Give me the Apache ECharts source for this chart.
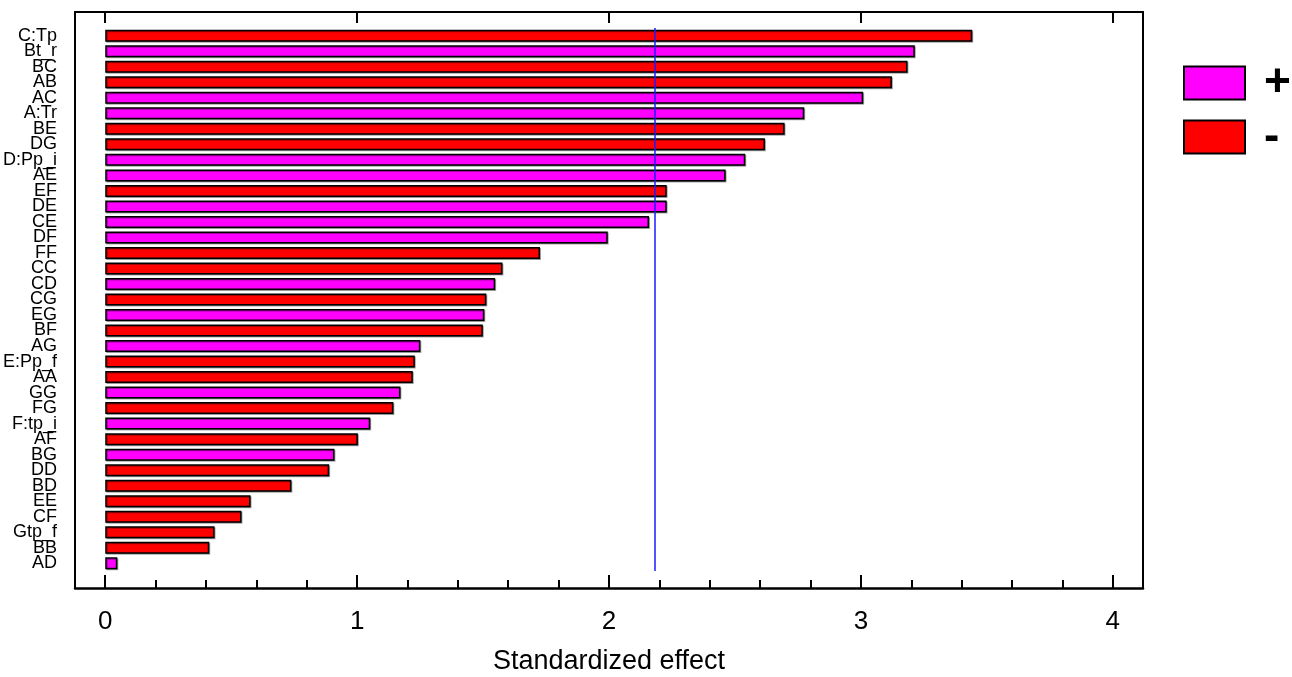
<!DOCTYPE html>
<html><head><meta charset="utf-8">
<script src="https://cdn.jsdelivr.net/npm/echarts@6/dist/echarts.min.js"></script>
<style>html,body{margin:0;padding:0;background:#fff}#c{width:1292px;height:677px}</style>
</head><body><div id="c"></div>
<script>
const categories = ['C:Tp','Bt_r','BC','AB','AC','A:Tr','BE','DG','D:Pp_i','AE','EF','DE','CE','DF','FF','CC','CD','CG','EG','BF','AG','E:Pp_f','AA','GG','FG','F:tp_i','AF','BG','DD','BD','EE','CF','Gtp_f','BB','AD'];
const effects = [3.442,3.214,3.185,3.123,3.009,2.775,2.697,2.619,2.541,2.463,2.229,2.229,2.159,1.995,1.726,1.577,1.548,1.513,1.505,1.499,1.251,1.229,1.221,1.172,1.144,1.052,1.003,0.910,0.889,0.739,0.577,0.541,0.434,0.413,0.048];
const signs = ['-','+','-','-','+','+','-','-','+','+','-','+','+','+','-','-','+','-','+','-','+','-','-','+','-','+','-','+','-','-','-','-','-','-','+'];
const criticalValue = 2.18;
const majorTicks = [0,1,2,3,4];
const minorTicks = [0,0.2,0.4,0.6,0.8,1,1.2,1.4,1.6,1.8,2,2.2,2.4,2.6,2.8,3,3.2,3.4,3.6,3.8,4];

const posData = effects.map((v,i)=>signs[i]==='+'?v:null);
const negData = effects.map((v,i)=>signs[i]==='-'?v:null);
const FONT = '"Liberation Sans", Arial, sans-serif';
const XMIN=-0.12, XMAX=4.12;

const chart = echarts.init(document.getElementById('c'), null, {renderer:'canvas'});
const barStyle = (c)=>({color:c, borderColor:'#000', borderWidth:1.5, shadowColor:'rgba(0,0,0,0.35)', shadowOffsetX:1, shadowOffsetY:1, shadowBlur:0});
chart.setOption({
  animation:false,
  backgroundColor:'#fff',
  textStyle:{fontFamily:FONT},
  grid:[
    {left:75, right:149, top:12, bottom:89, containLabel:false, outerBoundsMode:'none'},
    {left:75, right:149, top:28, bottom:106, containLabel:false, outerBoundsMode:'none'}
  ],
  legend:{
    orient:'vertical', left:1178, top:55, itemWidth:61, itemHeight:33, itemGap:8,
    icon:'rect',
    data:['+','-'],
    textStyle:{fontSize:46, lineHeight:40, fontWeight:'bold', color:'#000', fontFamily:FONT, padding:[0,0,0,14]}
  },
  xAxis:[
    {gridIndex:0, type:'value', position:'bottom', min:XMIN, max:XMAX,
     axisLine:{show:true, onZero:false, lineStyle:{color:'#000', width:2.5}},
     axisTick:{show:true, inside:true, length:8, customValues:minorTicks, lineStyle:{color:'#000', width:2}},
     axisLabel:{show:true, customValues:majorTicks, fontSize:26, color:'#000', margin:21, fontFamily:FONT},
     splitLine:{show:false},
     name:'Standardized effect', nameLocation:'middle', nameGap:60,
     nameTextStyle:{fontSize:27, color:'#000', fontFamily:FONT}},
    {gridIndex:0, type:'value', position:'bottom', min:XMIN, max:XMAX,
     axisLine:{show:false},
     axisTick:{show:true, inside:true, length:13, customValues:majorTicks, lineStyle:{color:'#000', width:2}},
     axisLabel:{show:false}, splitLine:{show:false}},
    {gridIndex:0, type:'value', position:'top', min:XMIN, max:XMAX,
     axisLine:{show:true, onZero:false, lineStyle:{color:'#000', width:2}},
     axisTick:{show:true, inside:true, length:11, customValues:majorTicks, lineStyle:{color:'#000', width:2}},
     axisLabel:{show:false}, splitLine:{show:false}},
    {gridIndex:1, type:'value', min:XMIN, max:XMAX, show:false, splitLine:{show:false}}
  ],
  yAxis:[
    {gridIndex:0, type:'value', position:'left', min:0, max:1,
     axisLine:{show:true, onZero:false, lineStyle:{color:'#000', width:2}},
     axisTick:{show:false}, axisLabel:{show:false}, splitLine:{show:false}},
    {gridIndex:0, type:'value', position:'right', min:0, max:1,
     axisLine:{show:true, onZero:false, lineStyle:{color:'#000', width:2}},
     axisTick:{show:false}, axisLabel:{show:false}, splitLine:{show:false}},
    {gridIndex:1, type:'category', data:categories, inverse:true,
     axisLine:{show:false}, axisTick:{show:false},
     axisLabel:{show:true, interval:0, fontSize:18, color:'#000', margin:18, fontFamily:FONT},
     splitLine:{show:false}}
  ],
  series:[
    {name:'+', type:'bar', xAxisIndex:3, yAxisIndex:2, stack:'e', data:posData, barWidth:12,
     itemStyle:barStyle('#ff00ff'),
     markLine:{silent:true, symbol:['none','none'], label:{show:false},
       lineStyle:{color:'#1a1aff', width:1.5, type:'solid'},
       data:[{xAxis:criticalValue}]}},
    {name:'-', type:'bar', xAxisIndex:3, yAxisIndex:2, stack:'e', data:negData, barWidth:12,
     itemStyle:barStyle('#ff0000')}
  ]
});
</script>
</body></html>
